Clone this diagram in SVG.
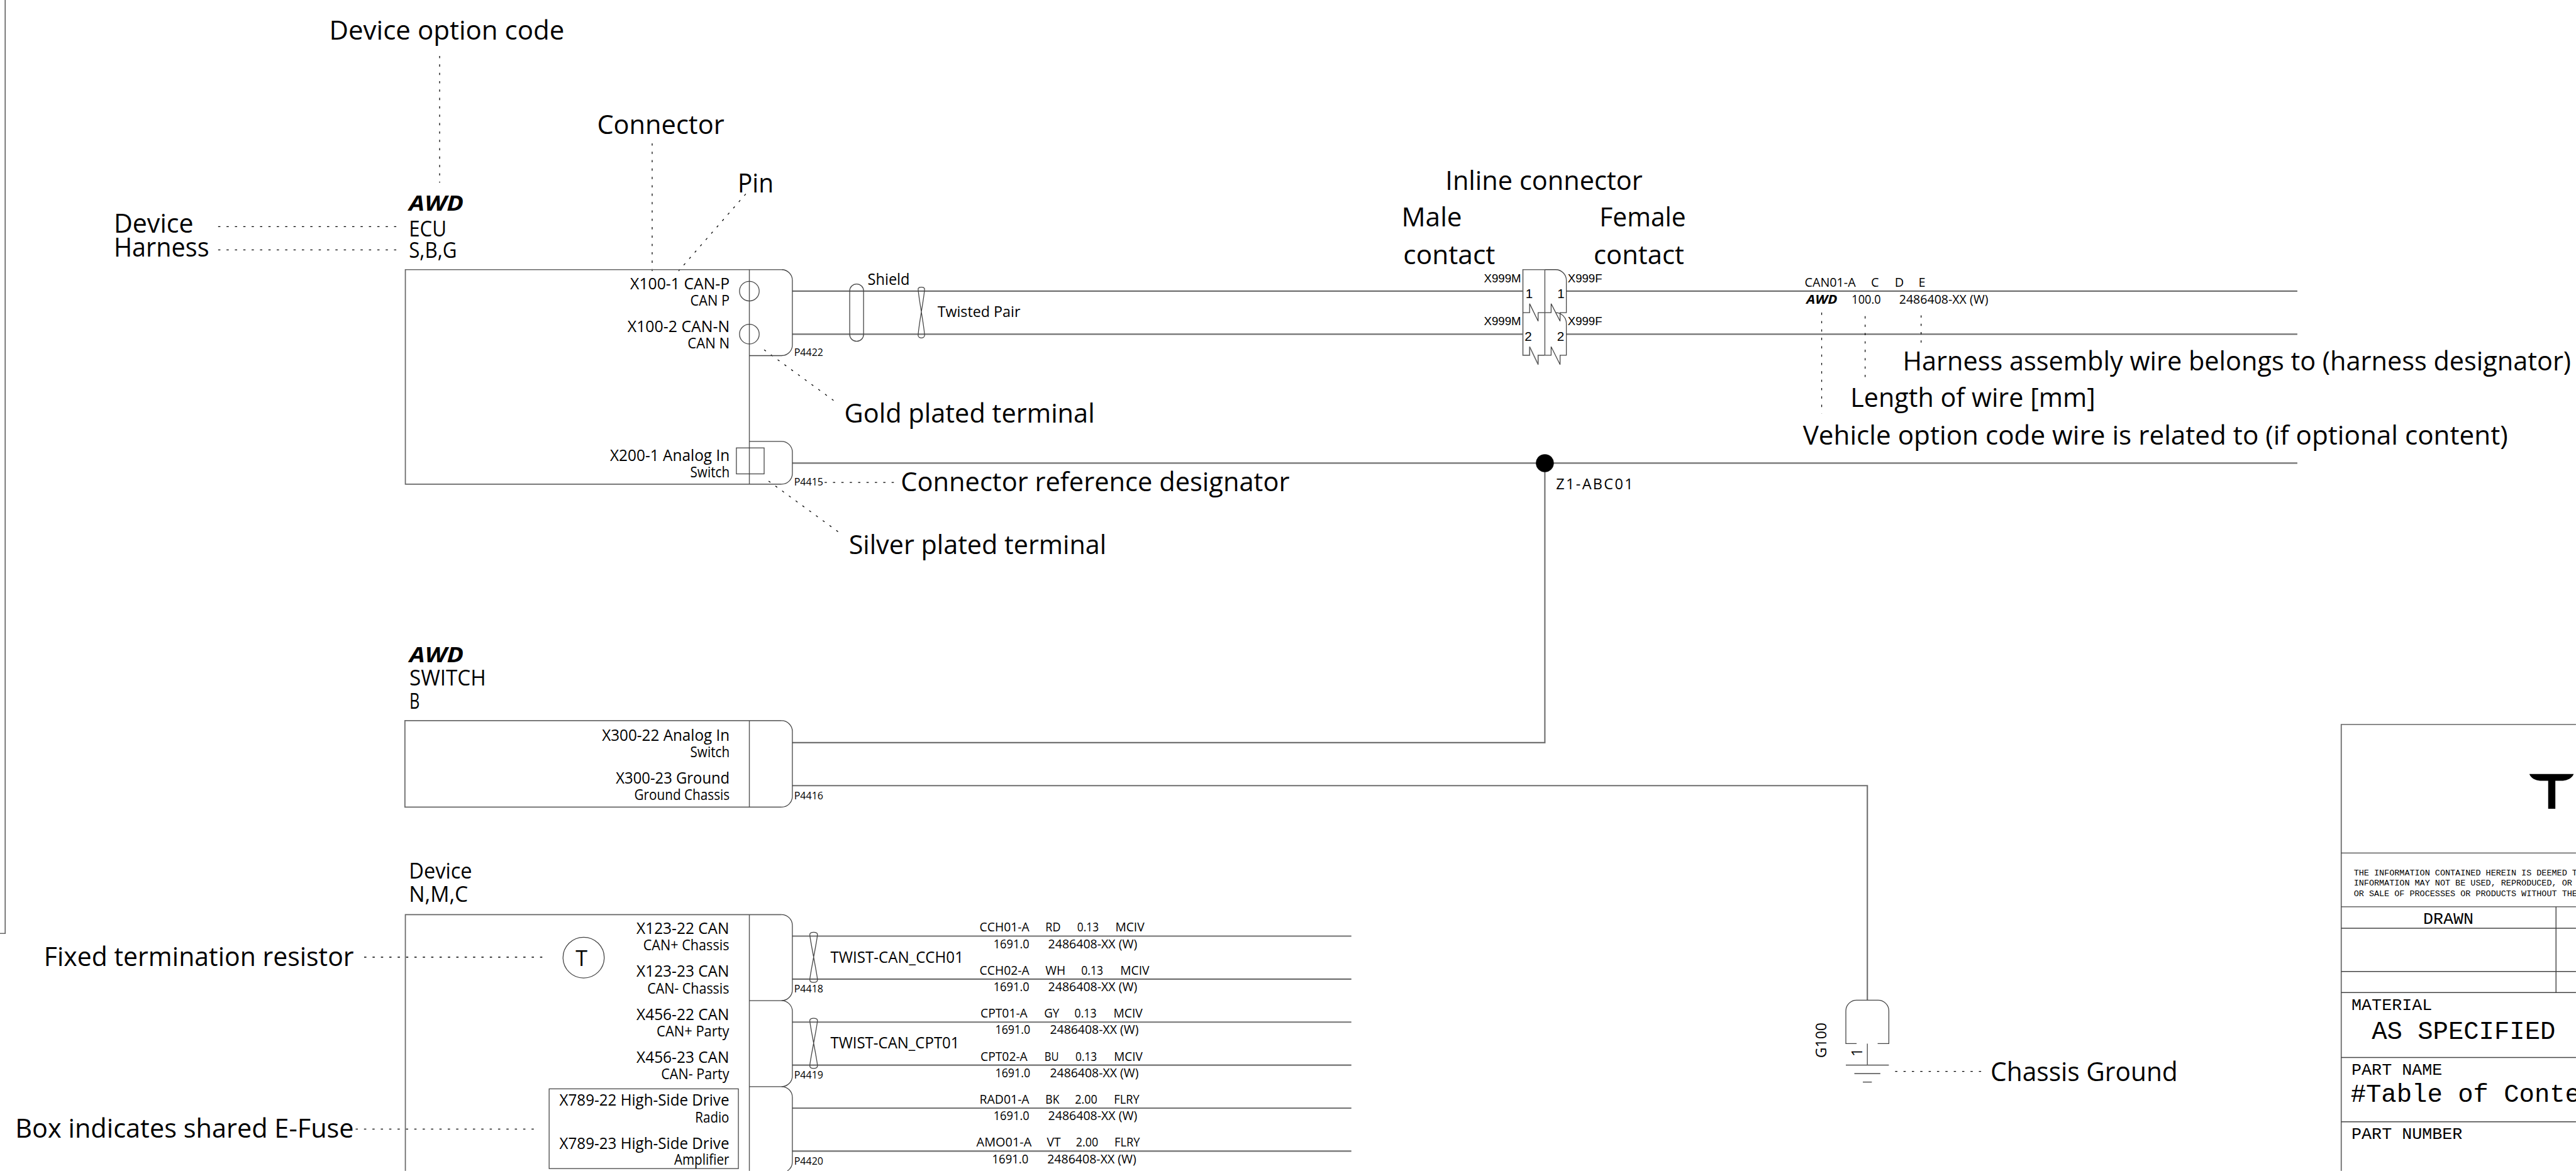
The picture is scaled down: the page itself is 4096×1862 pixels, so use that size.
<svg xmlns="http://www.w3.org/2000/svg" width="4096" height="1862" viewBox="0 0 4096 1862">
<style>
text{font-family:"Open Sans","Noto Sans",sans-serif;fill:#000}
.lg{font-size:60px}
.hd{font-size:48px}
.aw{font-size:47px;font-weight:700;font-style:italic}
.p1{font-size:36px}
.p2{font-size:32px}
.ws{font-size:28px}
.wa{font-size:27px;font-weight:700;font-style:italic}
.rf{font-size:23px}
.tw{font-size:35px}
.ar{font-family:"Liberation Sans",Arial,sans-serif;font-size:25px}
.nm{font-family:"Liberation Sans",Arial,sans-serif;font-size:29px}
.mo{font-family:"Liberation Mono","Courier New",monospace}
.m1{font-size:37.5px}
.m2{font-size:57px}
.m3{font-size:18.9px}
.box{fill:none;stroke:#666;stroke-width:2.4}
.div{fill:none;stroke:#555;stroke-width:2}
.cur{fill:none;stroke:#444;stroke-width:1.8}
.wire{fill:none;stroke:#707070;stroke-width:3}
.lead{fill:none;stroke:#000;stroke-width:1.8;stroke-dasharray:5 13.7}
.tb{fill:none;stroke:#444;stroke-width:2}
</style>
<rect width="4096" height="1862" fill="#fff"/>
<g transform="scale(0.71221)">
<path id="sheet-frame" class="box" d="M11.6 0V2084H0"/>

<g id="connectors">
<path class="wire" d="M1769 650H3400M3497 650H5129"/>
<path class="wire" d="M1769 746H3400M3497 746H5129"/>
<path class="wire" d="M1769 1034H5129"/>
<path class="wire" d="M3449 1034V1658H1769"/>
<path class="wire" d="M1769 1754H4169V2233"/>
<path class="wire" d="M1769 2090H3017M1769 2186H3017M1769 2282H3017M1769 2378H3017M1769 2474H3017M1769 2570H3017"/>
</g>

<g id="leaders">
<path class="lead" d="M981.5 125V408"/>
<path class="lead" d="M487 506H887"/>
<path class="lead" d="M487 558H887"/>
<path class="lead" d="M1456 320V605"/>
<path class="lead" d="M1665 433L1515 605"/>
<path class="lead" d="M1706 781L1861 894"/>
<path class="lead" d="M1716 1074L1871 1187"/>
<path class="lead" d="M1841 1077H2000"/>
<path class="lead" d="M4067 698V923"/>
<path class="lead" d="M4164 706V842"/>
<path class="lead" d="M4289 704V765"/>
<path class="lead" d="M813 2137H1212"/>
<path class="lead" d="M794 2521H1194"/>
<path class="lead" d="M4231 2392H4423"/>
</g>

<g id="callouts">
<text class="lg" x="735" y="88" textLength="525" lengthAdjust="spacingAndGlyphs">Device option code</text>
<text class="lg" x="254" y="520" textLength="178" lengthAdjust="spacingAndGlyphs">Device</text>
<text class="lg" x="254" y="573" textLength="213" lengthAdjust="spacingAndGlyphs">Harness</text>
<text class="lg" x="1333" y="299" textLength="284" lengthAdjust="spacingAndGlyphs">Connector</text>
<text class="lg" x="1647" y="429" textLength="80" lengthAdjust="spacingAndGlyphs">Pin</text>
<text class="lg" x="1885" y="943" textLength="559" lengthAdjust="spacingAndGlyphs">Gold plated terminal</text>
<text class="lg" x="2011" y="1096" textLength="868" lengthAdjust="spacingAndGlyphs">Connector reference designator</text>
<text class="lg" x="1895" y="1237" textLength="575" lengthAdjust="spacingAndGlyphs">Silver plated terminal</text>
<text class="lg" x="3227" y="424" textLength="440" lengthAdjust="spacingAndGlyphs">Inline connector</text>
<text class="lg" x="3129" y="506" textLength="135" lengthAdjust="spacingAndGlyphs">Male</text>
<text class="lg" x="3133" y="590" textLength="205" lengthAdjust="spacingAndGlyphs">contact</text>
<text class="lg" x="3571" y="506" textLength="193" lengthAdjust="spacingAndGlyphs">Female</text>
<text class="lg" x="3558" y="590" textLength="202" lengthAdjust="spacingAndGlyphs">contact</text>
<text class="lg" x="4248" y="827" textLength="1492" lengthAdjust="spacingAndGlyphs">Harness assembly wire belongs to (harness designator)</text>
<text class="lg" x="4131" y="909" textLength="547" lengthAdjust="spacingAndGlyphs">Length of wire [mm]</text>
<text class="lg" x="4025" y="993" textLength="1574" lengthAdjust="spacingAndGlyphs">Vehicle option code wire is related to (if optional content)</text>
<text class="lg" x="98" y="2156" textLength="692" lengthAdjust="spacingAndGlyphs">Fixed termination resistor</text>
<text class="lg" x="34" y="2540" textLength="756" lengthAdjust="spacingAndGlyphs">Box indicates shared E-Fuse</text>
<text class="lg" x="4444" y="2413" textLength="418" lengthAdjust="spacingAndGlyphs">Chassis Ground</text>
</g>

<g id="node-ecu">
<path class="box" d="M1745 602H905V1081H1745"/>
<path class="div" d="M1673 602V1081"/>
<path class="cur" d="M1745 602A24 24 0 0 1 1769 626V770A24 24 0 0 1 1745 794H1673"/>
<path class="cur" d="M1673 985.5H1745A24 24 0 0 1 1769 1009.5V1057A24 24 0 0 1 1745 1081"/>
<circle class="cur" cx="1673" cy="650" r="22"/>
<circle class="cur" cx="1673" cy="746" r="22"/>
<rect class="cur" x="1644" y="1000" width="62" height="58"/>
<rect class="cur" x="1897" y="634" width="31" height="128" rx="15.5"/>
<path class="cur" d="M2050 644C2052 640 2062 640 2064 644C2066 650 2048 742 2050 750C2052 756 2062 756 2064 750C2066 742 2048 650 2050 644Z"/>
<text class="aw" x="913" y="470" textLength="122" lengthAdjust="spacingAndGlyphs">AWD</text>
<text class="hd" x="913" y="528" textLength="84" lengthAdjust="spacingAndGlyphs">ECU</text>
<text class="hd" x="913" y="575" textLength="107" lengthAdjust="spacingAndGlyphs">S,B,G</text>
<text class="p1" x="1407" y="646" textLength="222" lengthAdjust="spacingAndGlyphs">X100-1 CAN-P</text>
<text class="p2" x="1541" y="682" textLength="88" lengthAdjust="spacingAndGlyphs">CAN P</text>
<text class="p1" x="1401" y="742" textLength="228" lengthAdjust="spacingAndGlyphs">X100-2 CAN-N</text>
<text class="p2" x="1535" y="778" textLength="94" lengthAdjust="spacingAndGlyphs">CAN N</text>
<text class="p1" x="1362" y="1029" textLength="267" lengthAdjust="spacingAndGlyphs">X200-1 Analog In</text>
<text class="p2" x="1541" y="1066" textLength="88" lengthAdjust="spacingAndGlyphs">Switch</text>
<text class="rf" x="1773" y="795" textLength="65" lengthAdjust="spacingAndGlyphs">P4422</text>
<text class="rf" x="1773" y="1084" textLength="65" lengthAdjust="spacingAndGlyphs">P4415</text>
<text style="font-size:37px" x="1937" y="636" textLength="94" lengthAdjust="spacingAndGlyphs">Shield</text>
<text style="font-size:34px" x="2093" y="708" textLength="185" lengthAdjust="spacingAndGlyphs">Twisted Pair</text>
</g>

<g id="node-inline">
<path class="box" d="M3449 602H3400V793H3415V774L3434 814V793H3449"/>
<path class="cur" d="M3400 698H3415V678L3434 717V698H3449"/>
<path class="cur" d="M3449 698H3463V678L3483 717V698H3497V626A24 24 0 0 0 3473 602H3449"/>
<path class="cur" d="M3449 793H3463V774L3483 814V793H3497V722A24 24 0 0 0 3473 698"/>
<path class="div" d="M3449 602V793"/>
<text class="nm" x="3406" y="665">1</text>
<text class="nm" x="3477" y="665">1</text>
<text class="nm" x="3404" y="761">2</text>
<text class="nm" x="3476" y="761">2</text>
<text class="ar" x="3313" y="630" textLength="83" lengthAdjust="spacingAndGlyphs">X999M</text>
<text class="ar" x="3500" y="630" textLength="77" lengthAdjust="spacingAndGlyphs">X999F</text>
<text class="ar" x="3313" y="726" textLength="83" lengthAdjust="spacingAndGlyphs">X999M</text>
<text class="ar" x="3500" y="726" textLength="77" lengthAdjust="spacingAndGlyphs">X999F</text>
</g>

<g id="node-wire-label">
<text class="ws" x="4029" y="640" textLength="114" lengthAdjust="spacingAndGlyphs">CAN01-A</text>
<text class="ws" x="4177" y="640">C</text>
<text class="ws" x="4230" y="640">D</text>
<text class="ws" x="4283" y="640">E</text>
<text class="wa" x="4033" y="678" textLength="69" lengthAdjust="spacingAndGlyphs">AWD</text>
<text class="ws" x="4134" y="678" textLength="65" lengthAdjust="spacingAndGlyphs">100.0</text>
<text class="ws" x="4240" y="678" textLength="199" lengthAdjust="spacingAndGlyphs">2486408-XX (W)</text>
</g>

<g id="node-junction">
<circle cx="3449" cy="1034" r="20" fill="#000"/>
<text style="font-size:33px" x="3474" y="1093" textLength="172" lengthAdjust="spacing">Z1-ABC01</text>
</g>

<g id="node-switch">
<path class="box" d="M1745 1609H904V1802H1745"/>
<path class="div" d="M1673 1609V1802"/>
<path class="cur" d="M1745 1609A24 24 0 0 1 1769 1633V1778A24 24 0 0 1 1745 1802"/>
<text class="aw" x="914" y="1478" textLength="121" lengthAdjust="spacingAndGlyphs">AWD</text>
<text class="hd" x="914" y="1531" textLength="171" lengthAdjust="spacingAndGlyphs">SWITCH</text>
<text class="hd" x="914" y="1583" textLength="23" lengthAdjust="spacingAndGlyphs">B</text>
<text class="p1" x="1344" y="1654" textLength="285" lengthAdjust="spacingAndGlyphs">X300-22 Analog In</text>
<text class="p2" x="1541" y="1690" textLength="88" lengthAdjust="spacingAndGlyphs">Switch</text>
<text class="p1" x="1375" y="1750" textLength="254" lengthAdjust="spacingAndGlyphs">X300-23 Ground</text>
<text class="p2" x="1416" y="1786" textLength="213" lengthAdjust="spacingAndGlyphs">Ground Chassis</text>
<text class="rf" x="1773" y="1785" textLength="65" lengthAdjust="spacingAndGlyphs">P4416</text>
</g>

<g id="node-ground">
<path class="cur" d="M4145 2330H4121V2257A24 24 0 0 1 4145 2233H4193A24 24 0 0 1 4217 2257V2330H4192"/>
<path class="cur" d="M4169 2330V2378"/>
<path class="box" d="M4121 2378H4217M4140 2397H4198M4159 2416H4179"/>
<text style="font-size:33px" transform="translate(4077 2362) rotate(-90)" textLength="79" lengthAdjust="spacingAndGlyphs">G100</text>
<text style="font-size:33px" transform="translate(4158 2359) rotate(-90)">1</text>
</g>

<g id="node-device">
<path class="box" d="M905 2614V2042H1745"/>
<path class="div" d="M1673 2042V2614"/>
<path class="cur" d="M1745 2042A24 24 0 0 1 1769 2066V2210A24 24 0 0 1 1745 2234H1673"/>
<path class="cur" d="M1745 2234A24 24 0 0 1 1769 2258V2402A24 24 0 0 1 1745 2426H1673"/>
<path class="cur" d="M1745 2426A24 24 0 0 1 1769 2450V2594A24 24 0 0 1 1758 2614"/>
<ellipse class="cur" cx="1303" cy="2138" rx="46" ry="45.5"/>
<text class="hd" x="1285" y="2156">T</text>
<rect class="cur" x="1226" y="2431" width="422.5" height="178"/>
<path class="cur" d="M1808 2086C1809 2080 1824 2080 1825 2086C1826 2092 1807 2182 1808 2188C1809 2195 1824 2195 1825 2188C1826 2182 1807 2092 1808 2086Z"/>
<path class="cur" d="M1808 2278C1809 2272 1824 2272 1825 2278C1826 2284 1807 2374 1808 2380C1809 2387 1824 2387 1825 2380C1826 2374 1807 2284 1808 2278Z"/>
<text class="hd" x="913" y="1962" textLength="141" lengthAdjust="spacingAndGlyphs">Device</text>
<text class="hd" x="913" y="2014" textLength="132" lengthAdjust="spacingAndGlyphs">N,M,C</text>
<text class="p1" x="1421" y="2085" textLength="207" lengthAdjust="spacingAndGlyphs">X123-22 CAN</text>
<text class="p2" x="1436" y="2122" textLength="192" lengthAdjust="spacingAndGlyphs">CAN+ Chassis</text>
<text class="p1" x="1421" y="2181" textLength="207" lengthAdjust="spacingAndGlyphs">X123-23 CAN</text>
<text class="p2" x="1445" y="2218" textLength="183" lengthAdjust="spacingAndGlyphs">CAN- Chassis</text>
<text class="p1" x="1421" y="2277" textLength="207" lengthAdjust="spacingAndGlyphs">X456-22 CAN</text>
<text class="p2" x="1466" y="2314" textLength="162" lengthAdjust="spacingAndGlyphs">CAN+ Party</text>
<text class="p1" x="1421" y="2373" textLength="207" lengthAdjust="spacingAndGlyphs">X456-23 CAN</text>
<text class="p2" x="1476" y="2409" textLength="152" lengthAdjust="spacingAndGlyphs">CAN- Party</text>
<text class="p1" x="1249" y="2469" textLength="379" lengthAdjust="spacingAndGlyphs">X789-22 High-Side Drive</text>
<text class="p2" x="1552" y="2506" textLength="76" lengthAdjust="spacingAndGlyphs">Radio</text>
<text class="p1" x="1249" y="2565" textLength="379" lengthAdjust="spacingAndGlyphs">X789-23 High-Side Drive</text>
<text class="p2" x="1505" y="2601" textLength="123" lengthAdjust="spacingAndGlyphs">Amplifier</text>
<text class="rf" x="1773" y="2216" textLength="65" lengthAdjust="spacingAndGlyphs">P4418</text>
<text class="rf" x="1773" y="2408" textLength="65" lengthAdjust="spacingAndGlyphs">P4419</text>
<text class="rf" x="1773" y="2600" textLength="65" lengthAdjust="spacingAndGlyphs">P4420</text>
<text class="tw" x="1854" y="2149" textLength="297" lengthAdjust="spacingAndGlyphs">TWIST-CAN_CCH01</text>
<text class="tw" x="1854" y="2341" textLength="288" lengthAdjust="spacingAndGlyphs">TWIST-CAN_CPT01</text>
</g>

<g id="device-wire-labels">
<text class="ws" x="2187" y="2080" textLength="111" lengthAdjust="spacingAndGlyphs">CCH01-A</text>
<text class="ws" x="2334" y="2080" textLength="34" lengthAdjust="spacingAndGlyphs">RD</text>
<text class="ws" x="2405" y="2080" textLength="48" lengthAdjust="spacingAndGlyphs">0.13</text>
<text class="ws" x="2490" y="2080" textLength="65" lengthAdjust="spacingAndGlyphs">MCIV</text>
<text class="ws" x="2218" y="2117" textLength="80" lengthAdjust="spacingAndGlyphs">1691.0</text>
<text class="ws" x="2340" y="2117" textLength="199" lengthAdjust="spacingAndGlyphs">2486408-XX (W)</text>
<text class="ws" x="2187" y="2176" textLength="111" lengthAdjust="spacingAndGlyphs">CCH02-A</text>
<text class="ws" x="2334" y="2176" textLength="45" lengthAdjust="spacingAndGlyphs">WH</text>
<text class="ws" x="2414" y="2176" textLength="49" lengthAdjust="spacingAndGlyphs">0.13</text>
<text class="ws" x="2501" y="2176" textLength="65" lengthAdjust="spacingAndGlyphs">MCIV</text>
<text class="ws" x="2218" y="2213" textLength="80" lengthAdjust="spacingAndGlyphs">1691.0</text>
<text class="ws" x="2340" y="2213" textLength="199" lengthAdjust="spacingAndGlyphs">2486408-XX (W)</text>
<text class="ws" x="2189" y="2272" textLength="105" lengthAdjust="spacingAndGlyphs">CPT01-A</text>
<text class="ws" x="2331" y="2272" textLength="34" lengthAdjust="spacingAndGlyphs">GY</text>
<text class="ws" x="2399" y="2272" textLength="49" lengthAdjust="spacingAndGlyphs">0.13</text>
<text class="ws" x="2486" y="2272" textLength="65" lengthAdjust="spacingAndGlyphs">MCIV</text>
<text class="ws" x="2222" y="2309" textLength="78" lengthAdjust="spacingAndGlyphs">1691.0</text>
<text class="ws" x="2344" y="2309" textLength="198" lengthAdjust="spacingAndGlyphs">2486408-XX (W)</text>
<text class="ws" x="2189" y="2368" textLength="105" lengthAdjust="spacingAndGlyphs">CPT02-A</text>
<text class="ws" x="2332" y="2368" textLength="32" lengthAdjust="spacingAndGlyphs">BU</text>
<text class="ws" x="2401" y="2368" textLength="48" lengthAdjust="spacingAndGlyphs">0.13</text>
<text class="ws" x="2487" y="2368" textLength="64" lengthAdjust="spacingAndGlyphs">MCIV</text>
<text class="ws" x="2222" y="2405" textLength="78" lengthAdjust="spacingAndGlyphs">1691.0</text>
<text class="ws" x="2344" y="2405" textLength="198" lengthAdjust="spacingAndGlyphs">2486408-XX (W)</text>
<text class="ws" x="2187" y="2464" textLength="111" lengthAdjust="spacingAndGlyphs">RAD01-A</text>
<text class="ws" x="2334" y="2464" textLength="31" lengthAdjust="spacingAndGlyphs">BK</text>
<text class="ws" x="2400" y="2464" textLength="50" lengthAdjust="spacingAndGlyphs">2.00</text>
<text class="ws" x="2487" y="2464" textLength="57" lengthAdjust="spacingAndGlyphs">FLRY</text>
<text class="ws" x="2218" y="2501" textLength="80" lengthAdjust="spacingAndGlyphs">1691.0</text>
<text class="ws" x="2340" y="2501" textLength="199" lengthAdjust="spacingAndGlyphs">2486408-XX (W)</text>
<text class="ws" x="2180" y="2560" textLength="123" lengthAdjust="spacingAndGlyphs">AMO01-A</text>
<text class="ws" x="2337" y="2560" textLength="31" lengthAdjust="spacingAndGlyphs">VT</text>
<text class="ws" x="2402" y="2560" textLength="50" lengthAdjust="spacingAndGlyphs">2.00</text>
<text class="ws" x="2488" y="2560" textLength="57" lengthAdjust="spacingAndGlyphs">FLRY</text>
<text class="ws" x="2215" y="2597" textLength="81" lengthAdjust="spacingAndGlyphs">1691.0</text>
<text class="ws" x="2338" y="2597" textLength="199" lengthAdjust="spacingAndGlyphs">2486408-XX (W)</text>
</g>

<g id="node-title-block">
<path class="box" d="M5751 1617.5H5227V2614"/>
<path class="tb" d="M5227 1904.5H5751M5227 2024.5H5751M5227 2072.5H5751M5227 2169H5751M5227 2216H5751M5227 2361H5751M5227 2504.5H5751M5706.5 2024.5V2216"/>
<path id="logo" fill="#000" d="M5647 1728H5746C5742 1738 5732 1742 5722 1743H5705V1805.5H5689V1743H5671C5660 1742 5651 1738 5647 1728Z"/>
<text class="mo m3" x="5255" y="1954">THE INFORMATION CONTAINED HEREIN IS DEEMED T</text>
<text class="mo m3" x="5255" y="1977.5">INFORMATION MAY NOT BE USED, REPRODUCED, OR</text>
<text class="mo m3" x="5255" y="2000.5">OR SALE OF PROCESSES OR PRODUCTS WITHOUT THE</text>
<text class="mo m1" x="5410" y="2062.5">DRAWN</text>
<text class="mo m1" x="5250" y="2254.5">MATERIAL</text>
<text class="mo m2" x="5295" y="2320">AS SPECIFIED</text>
<text class="mo m1" x="5250" y="2399">PART NAME</text>
<text class="mo m2" x="5248" y="2460">#Table of Conte</text>
<text class="mo m1" x="5250" y="2543">PART NUMBER</text>
</g>
</g>
</svg>
